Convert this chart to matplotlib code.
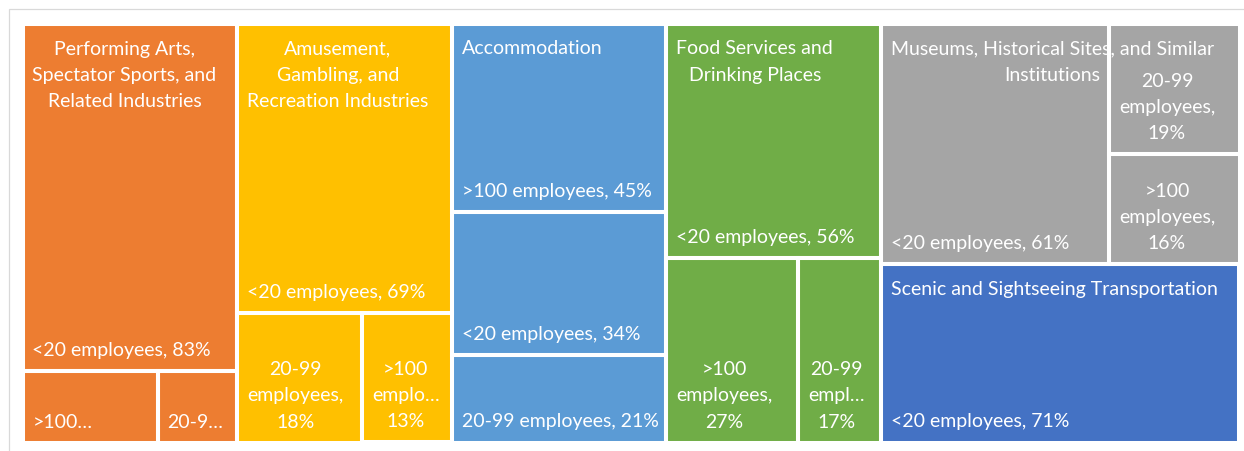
import matplotlib
matplotlib.use("Agg")
import matplotlib.pyplot as plt
from matplotlib.patches import Rectangle

# industries and share of establishments by size band (percent)
industries = [
    "Performing Arts, Spectator Sports, and Related Industries",
    "Amusement, Gambling, and Recreation Industries",
    "Accommodation",
    "Food Services and Drinking Places",
    "Museums, Historical Sites, and Similar Institutions",
    "Scenic and Sightseeing Transportation",
]
bands = ["<20 employees", "20-99 employees", ">100 employees"]
perf_arts = [83, 6.3, 10.7]
amusement = [69, 18, 13]
accommodation = [34, 21, 45]
food_services = [56, 17, 27]
museums = [61, 19, 16]
scenic = [71, 0, 0]
shares = [perf_arts, amusement, accommodation, food_services, museums, scenic]

colors = ["#ED7D31", "#FFC000", "#5B9BD5", "#70AD47", "#A5A5A5", "#4472C4"]

FONT = "Lato"
FS = 14.0
PAD = 10        # left text padding, px
LINE = 26.3     # line spacing, px
BOTTOM = 15     # baseline distance from bottom of a leaf, px
TOP = 31        # first baseline distance from top of a parent, px

fig = plt.figure(figsize=(12.44, 4.51), dpi=100)
plot_w, plot_h = 1217, 419
ax = fig.add_axes([22.5 / 1244, 8.5 / 451, plot_w / 1244, plot_h / 451])
ax.set_xlim(0, plot_w)
ax.set_ylim(plot_h, 0)
ax.axis("off")

# light chart-area border
fig.add_artist(Rectangle((8.5 / 1244, -1), 2, 1 - 8.5 / 451 + 1, transform=fig.transFigure,
                         fill=False, edgecolor="#D9D9D9", linewidth=0.9))

renderer = fig.canvas.get_renderer()


def text_width(s):
    t = ax.text(0, 0, s, fontsize=FS, family=FONT)
    w = t.get_window_extent(renderer=renderer).width
    t.remove()
    return w


def worst(row, side):
    s = sum(row)
    return max(max(side * side * r / (s * s), s * s / (side * side * r)) for r in row)


def squarify(areas, x, y, dx, dy):
    # squarified treemap, y grows downwards
    rects = []
    i = 0
    while i < len(areas):
        side = min(dx, dy)
        row = [areas[i]]
        j = i + 1
        while j < len(areas) and worst(row + [areas[j]], side) <= worst(row, side):
            row.append(areas[j])
            j += 1
        thick = sum(row) / side
        if dx >= dy:
            yy = y
            for a in row:
                rects.append((x, yy, thick, a / thick))
                yy += a / thick
            x += thick
            dx -= thick
        else:
            xx = x
            for a in row:
                rects.append((xx, y, a / thick, thick))
                xx += a / thick
            y += thick
            dy -= thick
        i = j
    return rects


def wrap(words, avail):
    lines = []
    cur = ""
    for w in words:
        test = w if not cur else cur + " " + w
        if cur and text_width(test) > avail:
            lines.append(cur)
            cur = w
        else:
            cur = test
    lines.append(cur)
    return lines


def cut(s, avail):
    # shorten with an ellipsis until it fits
    s = s + "\u2026"
    while len(s) > 2 and text_width(s) > avail:
        s = s[:-2] + "\u2026"
    return s


def box(x, y, w, h, color):
    ax.add_patch(Rectangle((x, y), w, h, facecolor=color, edgecolor="none", zorder=1))
    ax.add_patch(Rectangle((x, y), w, h, facecolor="none", edgecolor="white",
                           linewidth=2.9, zorder=3))


def put(x, y, s, ha, z):
    ax.text(x, y, s, fontsize=FS, family=FONT, color="white", ha=ha, va="baseline", zorder=z)


def block(x, lines, base_y, z):
    # left-aligned block, lines centred inside it
    if len(lines) == 1:
        put(x, base_y[0], lines[0], "left", z)
        return
    bw = max(text_width(ln) for ln in lines)
    for ln, by in zip(lines, base_y):
        put(x + bw / 2, by, ln, "center", z)


def leaf_label(x, y, w, h, name, pct):
    full = f"{name}, {pct:.0f}%"
    if text_width(full) <= w - PAD - 4:
        put(x + PAD, y + h - BOTTOM, full, "left", 4)
        return
    avail = w - 2 * PAD - 2
    lines = wrap(full.split(), avail)
    n = len(lines)
    if BOTTOM + (n - 1) * LINE + 17 <= h:
        lines = [ln if text_width(ln) <= avail else cut(ln[:-1] if ln.endswith(",") else ln, avail)
                 for ln in lines]
        block(x + PAD, lines, [y + h - BOTTOM - (n - 1 - k) * LINE for k in range(n)], 4)
    else:
        put(x + PAD, y + h - BOTTOM, cut(full.split()[0], avail), "left", 4)


def parent_label(x, y, w, name):
    lines = wrap(name.split(), w - 2 * PAD)
    block(x + PAD, lines, [y + TOP + k * LINE for k in range(len(lines))], 2)


totals = [sum(s) for s in shares]
order = sorted(range(len(industries)), key=lambda i: -totals[i])
scale = plot_w * plot_h / sum(totals)
top_rects = squarify([totals[i] * scale for i in order], 0, 0, plot_w, plot_h)

for i, (x, y, w, h) in zip(order, top_rects):
    items = sorted([(v, b) for b, v in zip(bands, shares[i]) if v > 0], key=lambda t: -t[0])
    tot = sum(v for v, _ in items)
    sub = squarify([v / tot * w * h for v, _ in items], x, y, w, h)
    for (v, b), (sx, sy, sw, sh) in zip(items, sub):
        box(sx, sy, sw, sh, colors[i])
        leaf_label(sx, sy, sw, sh, b, v)
    parent_label(x, y, w, industries[i])

fig.savefig("out.png", dpi=100, facecolor="white")
